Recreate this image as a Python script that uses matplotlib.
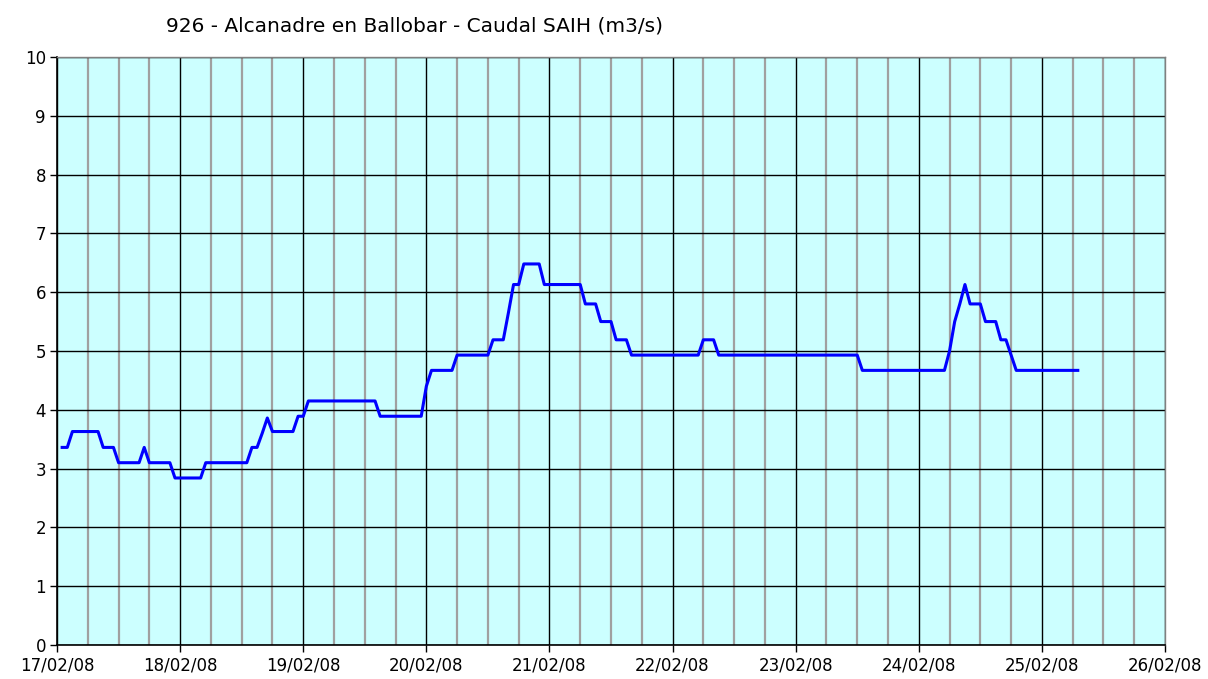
import matplotlib
matplotlib.use("Agg")
import matplotlib.pyplot as plt
import matplotlib.dates as mdates
import pandas as pd

# Hourly flow readings (m3/s), starting 17/02/08 01:00
day17 = [3.36, 3.36, 3.63, 3.63, 3.63, 3.63, 3.63, 3.63, 3.36, 3.36, 3.36, 3.10,
         3.10, 3.10, 3.10, 3.10, 3.36, 3.10, 3.10, 3.10, 3.10, 3.10, 2.84]
day18 = [2.84, 2.84, 2.84, 2.84, 2.84, 3.10, 3.10, 3.10, 3.10, 3.10, 3.10, 3.10,
         3.10, 3.10, 3.36, 3.36, 3.60, 3.86, 3.63, 3.63, 3.63, 3.63, 3.63, 3.89]
day19 = [3.89, 4.15, 4.15, 4.15, 4.15, 4.15, 4.15, 4.15, 4.15, 4.15, 4.15, 4.15,
         4.15, 4.15, 4.15, 3.89, 3.89, 3.89, 3.89, 3.89, 3.89, 3.89, 3.89, 3.89]
day20 = [4.40, 4.67, 4.67, 4.67, 4.67, 4.67, 4.93, 4.93, 4.93, 4.93, 4.93, 4.93,
         4.93, 5.19, 5.19, 5.19, 5.65, 6.13, 6.13, 6.48, 6.48, 6.48, 6.48, 6.13]
day21 = [6.13, 6.13, 6.13, 6.13, 6.13, 6.13, 6.13, 5.80, 5.80, 5.80, 5.50, 5.50,
         5.50, 5.19, 5.19, 5.19, 4.93, 4.93, 4.93, 4.93, 4.93, 4.93, 4.93, 4.93]
day22 = [4.93, 4.93, 4.93, 4.93, 4.93, 4.93, 5.19, 5.19, 5.19, 4.93, 4.93, 4.93,
         4.93, 4.93, 4.93, 4.93, 4.93, 4.93, 4.93, 4.93, 4.93, 4.93, 4.93, 4.93]
day23 = [4.93, 4.93, 4.93, 4.93, 4.93, 4.93, 4.93, 4.93, 4.93, 4.93, 4.93, 4.93,
         4.93, 4.67, 4.67, 4.67, 4.67, 4.67, 4.67, 4.67, 4.67, 4.67, 4.67, 4.67]
day24 = [4.67, 4.67, 4.67, 4.67, 4.67, 4.67, 5.00, 5.50, 5.80, 6.13, 5.80, 5.80,
         5.80, 5.50, 5.50, 5.50, 5.19, 5.19, 4.93, 4.67, 4.67, 4.67, 4.67, 4.67]
day25 = [4.67, 4.67, 4.67, 4.67, 4.67, 4.67, 4.67, 4.67]

flow = day17 + day18 + day19 + day20 + day21 + day22 + day23 + day24 + day25
times = pd.date_range("2008-02-17 01:00", periods=len(flow), freq="h")

title = "926 - Alcanadre en Ballobar - Caudal SAIH (m3/s)"
x_start = pd.Timestamp("2008-02-17")
x_end = pd.Timestamp("2008-02-26")

plt.rcParams['font.family'] = ['DejaVu Sans']

fig = plt.figure(figsize=(12.08, 6.79), dpi=100)
ax = fig.add_axes([0.0472, 0.0501, 0.9172, 0.866])
ax.set_facecolor('#CCFFFF')

ax.plot(times, flow, color='#0000FF', linewidth=2.2, zorder=3)

ax.set_xlim(x_start, x_end)
ax.set_ylim(0, 10)
ax.set_yticks(range(0, 11))

ax.xaxis.set_major_locator(mdates.DayLocator())
ax.xaxis.set_major_formatter(mdates.DateFormatter('%d/%m/%y'))
ax.xaxis.set_minor_locator(mdates.HourLocator(byhour=[6, 12, 18]))

ax.grid(True, which='major', axis='both', color='black', linewidth=1.0, zorder=1)
ax.grid(True, which='minor', axis='x', color='#A0A0A0', linewidth=1.6, zorder=0)
ax.set_axisbelow(True)

ax.tick_params(axis='both', which='major', direction='out', length=5, width=1,
               labelsize=12, colors='black', pad=3)
ax.tick_params(axis='x', which='minor', length=0)

for side in ['left', 'bottom']:
    ax.spines[side].set_color('black')
    ax.spines[side].set_linewidth(1.2)
for side in ['top', 'right']:
    ax.spines[side].set_color('#808080')
    ax.spines[side].set_linewidth(1.0)

fig.text(0.343, 0.962, title, ha='center', va='center', fontsize=14.5)

fig.savefig('out.png', dpi=100)
